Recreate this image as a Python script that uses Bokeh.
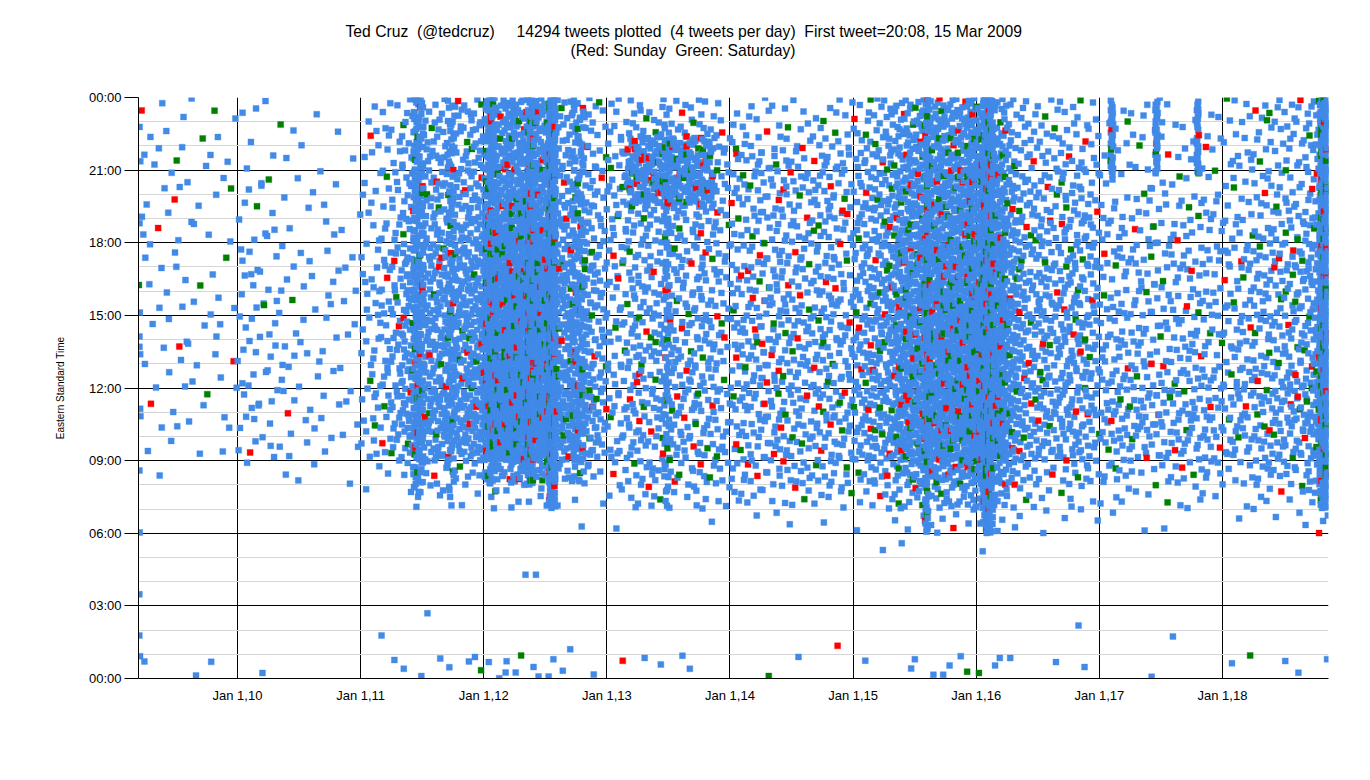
import datetime as dt
from bokeh.plotting import figure
from bokeh.models import FixedTicker, Title, ColumnDataSource, Range1d
from bokeh.embed import file_html
from bokeh.resources import INLINE

NB = "\u00a0"
# ---------------- texts ----------------
TITLE_1 = ("Ted Cruz" + NB + " (@tedcruz)" + NB * 4 + " 14294 tweets plotted" + NB +
           " (4 tweets per day)" + NB + " First tweet=20:08, 15 Mar 2009")
TITLE_2 = "(Red: Sunday" + NB + " Green: Saturday)"
Y_LABEL = "Eastern Standard Time"

x_tick_years = [2010, 2011, 2012, 2013, 2014, 2015, 2016, 2017, 2018]
x_tick_labels = ["Jan 1,10", "Jan 1,11", "Jan 1,12", "Jan 1,13", "Jan 1,14",
                 "Jan 1,15", "Jan 1,16", "Jan 1,17", "Jan 1,18"]
y_tick_hours = [0, 3, 6, 9, 12, 15, 18, 21, 24]
y_tick_labels = ["00:00", "03:00", "06:00", "09:00", "12:00", "15:00", "18:00", "21:00", "00:00"]

first_day = "2009-03-15"
last_day = "2018-11-09"

# ---------------- data (read from the picture as densities) ----------------
# tweets per month (Jan..Dec)
counts_2009 = [0, 0, 8, 10, 10, 10, 12, 10, 8, 10, 8, 8]
counts_2010 = [18, 18, 16, 16, 14, 12, 10, 10, 10, 10, 8, 8]
counts_2011 = [25, 30, 40, 50, 80, 90, 90, 100, 95, 100, 110, 120]
counts_2012 = [250, 230, 250, 260, 260, 240, 250, 110, 110, 100, 80, 55]
counts_2013 = [45, 45, 65, 65, 60, 65, 65, 60, 65, 65, 55, 45]
counts_2014 = [50, 50, 55, 55, 55, 55, 55, 50, 55, 60, 55, 50]
counts_2015 = [65, 70, 90, 100, 140, 170, 180, 190, 200, 220, 220, 250]
counts_2016 = [260, 240, 200, 120, 80, 65, 70, 60, 65, 70, 65, 55]
counts_2017 = [40, 40, 42, 40, 40, 40, 40, 40, 40, 42, 40, 36]
counts_2018 = [40, 40, 45, 50, 55, 55, 60, 65, 75, 110, 80, 0]

# relative tweet density per hour of day (00..23), per year
hours_2009 = [1.5, 0.5, 0, 0, 0, 0, 0, 0, 0.3, 2, 4, 4, 4, 4, 4, 4, 4, 4, 4, 4, 4, 4, 3.5, 3.5]
hours_2010 = [1, 0.2, 0, 0, 0, 0, 0, 0, 4, 12, 12, 12, 12, 12, 12, 12, 12, 12, 8, 8, 8, 4, 4, 4]
hours_2011 = [0.9, 0.15, 0.03, 0.03, 0.03, 0.03, 0.1, 0.8, 3, 8, 10, 10, 9, 9, 9, 9, 9, 8, 7, 6, 6, 5, 5, 4]
hours_2012 = [0.8, 0.1, 0.02, 0.02, 0.02, 0.02, 0.1, 0.8, 4, 10, 12, 12, 11, 10, 10, 10, 10, 9, 8, 7, 6, 6, 5, 5]
hours_2013 = [0.4, 0.05, 0, 0, 0, 0, 0.3, 2.5, 4, 4.5, 5, 5, 5, 5, 5, 4.5, 4.5, 4.5, 4.5, 5, 6, 6, 4, 3]
hours_2014 = [0.3, 0.02, 0, 0, 0, 0, 0.5, 3, 5, 5.5, 6, 6, 6, 6, 6, 6, 5.5, 5, 5, 5, 5.5, 5, 3, 2]
hours_2015 = [0.5, 0.03, 0, 0, 0, 0.1, 1, 3, 6, 9, 10, 10, 10, 10, 10, 10, 9, 9, 8, 8, 8, 7, 6, 5]
hours_2016 = [0.6, 0.05, 0.02, 0, 0, 0.1, 1.2, 3.5, 6, 9, 10, 10, 10, 10, 10, 10, 9, 9, 8, 7, 7, 6, 5, 4]
hours_2017 = [0.6, 0.05, 0, 0.03, 0, 0.1, 0.8, 2.5, 6, 9, 10, 10, 9, 8, 7, 7, 7, 7, 6, 5, 4, 3, 3, 3]
hours_2018 = [0.7, 0.05, 0, 0, 0.03, 0.05, 1, 3, 6, 9, 10, 10, 9, 8, 8, 8, 8, 8, 7, 6, 5, 5, 5, 5]

# share of tweets sent on Sunday / Saturday, per year
sunday_share = [0.05, 0.02, 0.03, 0.04, 0.06, 0.07, 0.05, 0.04, 0.04, 0.04]
saturday_share = [0.09, 0.04, 0.04, 0.05, 0.07, 0.07, 0.07, 0.06, 0.06, 0.08]

# bursts: vertical stripes / bands (start, end, tweets, first hour, last hour)
burst_start = ["2009-03-15", "2011-06-05", "2011-09-15", "2012-01-12", "2012-05-10",
               "2012-07-13", "2012-09-20", "2013-03-01", "2013-06-20", "2015-08-01",
               "2016-01-20", "2017-02-03", "2017-06-15", "2017-10-15", "2018-10-15"]
burst_end = ["2009-03-18", "2011-07-05", "2011-10-05", "2012-02-05", "2012-05-28",
             "2012-07-31", "2012-10-25", "2013-11-15", "2013-07-05", "2015-08-12",
             "2016-02-20", "2017-02-10", "2017-06-22", "2017-10-22", "2018-11-08"]
burst_count = [12, 200, 70, 150, 250, 350, 100, 210, 60, 150, 350, 25, 25, 25, 330]
burst_hour_lo = [0.5, 7.5, 7, 8, 8, 7, 8, 19.5, 7, 6, 6, 20.8, 20.8, 20.8, 7]
burst_hour_hi = [23.5, 24, 24, 24, 24, 24, 24, 22.4, 23, 24, 24, 23.9, 23.9, 23.9, 24]

years = [2009, 2010, 2011, 2012, 2013, 2014, 2015, 2016, 2017, 2018]
monthly_counts = [counts_2009, counts_2010, counts_2011, counts_2012, counts_2013,
                  counts_2014, counts_2015, counts_2016, counts_2017, counts_2018]
hour_profiles = [hours_2009, hours_2010, hours_2011, hours_2012, hours_2013,
                 hours_2014, hours_2015, hours_2016, hours_2017, hours_2018]

BLUE, RED, GREEN = "#428ae8", "#ff0000", "#008000"


# ---------------- placing tweets inside their month / hour cells ----------------
def halton(i, b):
    f, r = 1.0, 0.0
    while i > 0:
        f /= b
        r += f * (i % b)
        i //= b
    return r


def pdate(s):
    return dt.date.fromisoformat(s)


D0, D1 = pdate(first_day), pdate(last_day)


def snap(d, wd, lo, hi):
    c = d
    for delta in (0, 1, -1, 2, -2, 3, -3):
        c = d + dt.timedelta(days=delta)
        if c.weekday() == wd:
            break
    while c < lo:
        c += dt.timedelta(days=7)
    while c > hi:
        c -= dt.timedelta(days=7)
    return c


def weekday_of(d, lo, hi):
    wd = d.weekday()
    if wd == 5:
        c = d - dt.timedelta(days=1)
        return c if c >= lo else d + dt.timedelta(days=2)
    if wd == 6:
        c = d + dt.timedelta(days=1)
        return c if c <= hi else d - dt.timedelta(days=2)
    return d


def hour_from(u, w):
    tot = sum(w)
    t = u * tot
    acc = 0.0
    for h, wh in enumerate(w):
        if wh > 0 and t < acc + wh:
            return h + (t - acc) / wh
        acc += wh
    return 23.99


def to_x(d, hour):
    y0 = dt.date(d.year, 1, 1)
    n = (dt.date(d.year + 1, 1, 1) - y0).days
    return d.year + ((d - y0).days + hour / 24.0) / n


pts = []


def add_period(lo, hi, n, yi, off, hour_fn):
    if n <= 0 or hi < lo:
        return
    L = (hi - lo).days + 1
    for i in range(n):
        k = i + off + 1
        u1, u2, u3 = halton(k, 2), halton(k, 3), halton(k, 5)
        d = lo + dt.timedelta(days=min(L - 1, int(u1 * L)))
        if u3 < sunday_share[yi]:
            d = snap(d, 6, lo, hi)
        elif u3 < sunday_share[yi] + saturday_share[yi]:
            d = snap(d, 5, lo, hi)
        else:
            d = weekday_of(d, lo, hi)
        h = min(hour_fn(u2), 23.99)
        wd = d.weekday()
        col = RED if wd == 6 else (GREEN if wd == 5 else BLUE)
        pts.append((to_x(d, h), h, col))


off = 0
for yi, yr in enumerate(years):
    for m in range(12):
        lo = max(dt.date(yr, m + 1, 1), D0)
        hi = (dt.date(yr + (m == 11), (m + 1) % 12 + 1, 1) - dt.timedelta(days=1))
        hi = min(hi, D1)
        prof = hour_profiles[yi]
        add_period(lo, hi, monthly_counts[yi][m], yi, off, lambda u, prof=prof: hour_from(u, prof))
        off += 173

for b in range(len(burst_start)):
    lo, hi = pdate(burst_start[b]), pdate(burst_end[b])
    yi = years.index(lo.year)
    a, z = burst_hour_lo[b], burst_hour_hi[b]
    add_period(lo, hi, burst_count[b], yi, off, lambda u, a=a, z=z: a + u * (z - a))
    off += 977

pts.sort(key=lambda t: t[0])
src = ColumnDataSource(dict(x=[p_[0] for p_ in pts], y=[p_[1] for p_ in pts],
                            c=[p_[2] for p_ in pts]))

# ---------------- figure ----------------
p = figure(width=1365, height=770, output_backend="svg", toolbar_location=None,
           x_range=Range1d(2009.196, 2018.861), y_range=Range1d(0, 24),
           min_border_left=138, min_border_right=37, min_border_top=97,
           min_border_bottom=92, title=None)
p.outline_line_color = None
p.background_fill_color = "white"
p.border_fill_color = "white"

TFONT = "Liberation Sans"
spacer = Title(text=" ", text_font_size="10px", standoff=26)
t2 = Title(text=TITLE_2, align="left", offset=432, text_font_size="15.7px",
           text_font=TFONT, text_font_style="normal", text_color="black", standoff=0)
t1 = Title(text=TITLE_1, align="left", offset=207, text_font_size="15.7px",
           text_font=TFONT, text_font_style="normal", text_color="black", standoff=0)
p.add_layout(spacer, "above")
p.add_layout(t2, "above")
p.add_layout(t1, "above")

# grid
p.xgrid.ticker = FixedTicker(ticks=x_tick_years)
p.xgrid.grid_line_color = "black"
p.ygrid.ticker = FixedTicker(ticks=y_tick_hours,
                             minor_ticks=[h for h in range(25) if h % 3])
p.ygrid.grid_line_color = "black"
p.ygrid.minor_grid_line_color = "#d6d6d6"

# axes
p.xaxis.ticker = FixedTicker(ticks=x_tick_years)
p.xaxis.major_label_overrides = {yv: lab for yv, lab in zip(x_tick_years, x_tick_labels)}
p.xaxis.major_tick_line_color = None
p.xaxis.major_tick_out = 0
p.xaxis.minor_tick_line_color = None
p.xaxis.major_label_standoff = 9
p.xaxis.axis_line_color = "black"

p.yaxis.ticker = FixedTicker(ticks=y_tick_hours,
                             minor_ticks=[h for h in range(25) if h % 3])
p.yaxis.major_label_overrides = {hv: lab for hv, lab in zip(y_tick_hours, y_tick_labels)}
p.yaxis.major_tick_out = 14
p.yaxis.major_tick_in = 0
p.yaxis.minor_tick_line_color = None
p.yaxis.major_label_standoff = 3
p.yaxis.axis_line_color = "black"
p.yaxis.axis_label = Y_LABEL
p.yaxis.axis_label_text_font_size = "10px"
p.yaxis.axis_label_text_font_style = "normal"
p.yaxis.axis_label_text_font = "Liberation Sans"
p.yaxis.axis_label_text_color = "black"
p.yaxis.axis_label_standoff = 20

for ax in (p.xaxis, p.yaxis):
    ax.major_label_text_font = "Liberation Sans"
    ax.major_label_text_font_size = "13px"
    ax.major_label_text_color = "black"

p.scatter("x", "y", source=src, marker="square", size=6, fill_color="c",
          line_color="c", line_alpha=0.35, line_width=1)

open("out.html", "w").write(file_html(p, INLINE))
